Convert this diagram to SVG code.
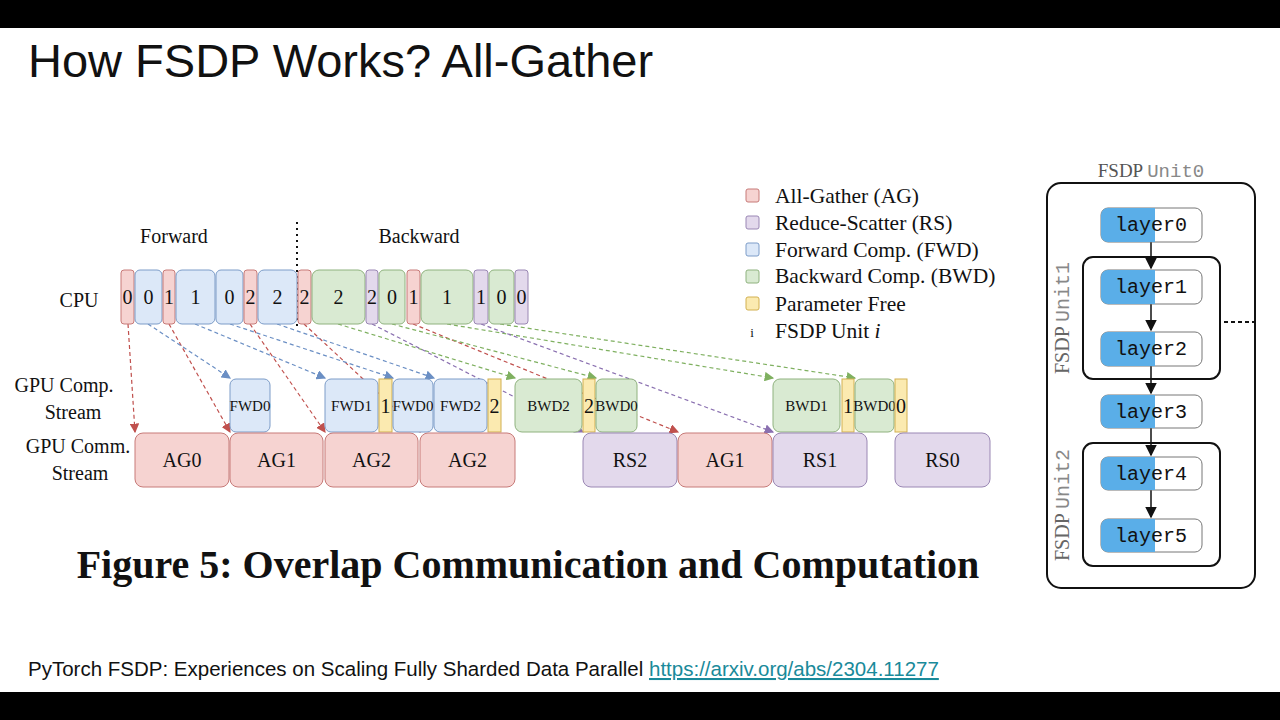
<svg xmlns="http://www.w3.org/2000/svg" width="1280" height="720" viewBox="0 0 1280 720">
<style>
.s{font-family:"Liberation Serif",serif;fill:#111}
.m{font-family:"Liberation Mono",monospace}
.r{fill:#f6d3d1;stroke:#c77a78;stroke-width:1}
.b{fill:#dce8f8;stroke:#7c9cc8;stroke-width:1}
.g{fill:#d9ead2;stroke:#8fb27e;stroke-width:1}
.p{fill:#e3d9ec;stroke:#9a87b4;stroke-width:1}
.y{fill:#fbeab0;stroke:#d2b050;stroke-width:1}
.ar{fill:none;stroke-width:1.2;stroke-dasharray:4 3}
.lay{fill:#fff;stroke:#777}
</style>
<defs>
<marker id="mr" markerWidth="8" markerHeight="8" refX="7" refY="4" orient="auto"><path d="M0,0L8,4L0,8z" fill="#c0504d"/></marker>
<marker id="mb" markerWidth="8" markerHeight="8" refX="7" refY="4" orient="auto"><path d="M0,0L8,4L0,8z" fill="#6b8fc4"/></marker>
<marker id="mg" markerWidth="8" markerHeight="8" refX="7" refY="4" orient="auto"><path d="M0,0L8,4L0,8z" fill="#7fb060"/></marker>
<marker id="mp" markerWidth="8" markerHeight="8" refX="7" refY="4" orient="auto"><path d="M0,0L8,4L0,8z" fill="#8a70b0"/></marker>
<marker id="mk" markerWidth="8" markerHeight="8" refX="7" refY="4" orient="auto"><path d="M0,0L8,4L0,8z" fill="#111"/></marker>
</defs>
<rect width="1280" height="720" fill="#fff"/>
<rect width="1280" height="28" fill="#000"/>
<rect y="692" width="1280" height="28" fill="#000"/>
<text x="28" y="77" font-family="Liberation Sans,sans-serif" font-size="47" fill="#111">How FSDP Works? All-Gather</text>

<g id="labels" class="s" font-size="20">
<text x="174" y="243" text-anchor="middle">Forward</text>
<text x="419" y="243" text-anchor="middle">Backward</text>
<text x="79" y="307" text-anchor="middle">CPU</text>
<text x="64" y="392" text-anchor="middle">GPU Comp.</text>
<text x="73" y="419" text-anchor="middle">Stream</text>
<text x="78" y="453" text-anchor="middle">GPU Comm.</text>
<text x="80" y="480" text-anchor="middle">Stream</text>
</g>
<line x1="297" y1="222" x2="297" y2="326" stroke="#111" stroke-width="2" stroke-dasharray="2 4"/>

<g id="connectors">
<path class="ar" stroke="#c0504d" marker-end="url(#mr)" d="M128,324L135,432"/>
<path class="ar" stroke="#c0504d" marker-end="url(#mr)" d="M169,324L230,432"/>
<path class="ar" stroke="#c0504d" marker-end="url(#mr)" d="M250,324L325,432"/>
<path class="ar" stroke="#c0504d" marker-end="url(#mr)" d="M304,324L420,432"/>
<path class="ar" stroke="#c0504d" marker-end="url(#mr)" d="M413,324L678,432"/>
<path class="ar" stroke="#6b8fc4" marker-end="url(#mb)" d="M148,324L230,378"/>
<path class="ar" stroke="#6b8fc4" marker-end="url(#mb)" d="M195,324L325,378"/>
<path class="ar" stroke="#6b8fc4" marker-end="url(#mb)" d="M230,324L393,378"/>
<path class="ar" stroke="#6b8fc4" marker-end="url(#mb)" d="M277,324L434,378"/>
<path class="ar" stroke="#7fb060" marker-end="url(#mg)" d="M338,324L515,378"/>
<path class="ar" stroke="#7fb060" marker-end="url(#mg)" d="M392,324L596,378"/>
<path class="ar" stroke="#7fb060" marker-end="url(#mg)" d="M447,324L773,378"/>
<path class="ar" stroke="#7fb060" marker-end="url(#mg)" d="M500,324L855,378"/>
<path class="ar" stroke="#8a70b0" marker-end="url(#mp)" d="M372,324L583,432"/>
<path class="ar" stroke="#8a70b0" marker-end="url(#mp)" d="M481,324L773,432"/>
</g>

<g id="cpu" class="s" font-size="20" text-anchor="middle">
<rect class="r" x="121" y="270" width="13" height="54" rx="3"/><text x="127.5" y="304">0</text>
<rect class="b" x="135" y="270" width="27" height="54" rx="5"/><text x="148.5" y="304">0</text>
<rect class="r" x="163" y="270" width="12" height="54" rx="3"/><text x="169" y="304">1</text>
<rect class="b" x="176" y="270" width="39" height="54" rx="6"/><text x="195.5" y="304">1</text>
<rect class="b" x="216" y="270" width="27" height="54" rx="5"/><text x="229.5" y="304">0</text>
<rect class="r" x="244" y="270" width="13" height="54" rx="3"/><text x="250.5" y="304">2</text>
<rect class="b" x="258" y="270" width="39" height="54" rx="6"/><text x="277.5" y="304">2</text>
<rect class="r" x="298" y="270" width="13" height="54" rx="3"/><text x="304.5" y="304">2</text>
<rect class="g" x="312" y="270" width="53" height="54" rx="7"/><text x="338.5" y="304">2</text>
<rect class="p" x="366" y="270" width="12" height="54" rx="3"/><text x="372" y="304">2</text>
<rect class="g" x="379" y="270" width="26" height="54" rx="5"/><text x="392" y="304">0</text>
<rect class="r" x="407" y="270" width="13" height="54" rx="3"/><text x="413.5" y="304">1</text>
<rect class="g" x="421" y="270" width="52" height="54" rx="7"/><text x="447" y="304">1</text>
<rect class="p" x="474" y="270" width="14" height="54" rx="3"/><text x="481" y="304">1</text>
<rect class="g" x="489" y="270" width="25" height="54" rx="5"/><text x="501.5" y="304">0</text>
<rect class="p" x="515" y="270" width="13" height="54" rx="3"/><text x="521.5" y="304">0</text>
</g>

<g id="gpucomp" class="s" font-size="15" text-anchor="middle">
<rect class="b" x="230" y="379" width="40" height="53" rx="6"/><text x="250" y="411">FWD0</text>
<rect class="b" x="325" y="379" width="53" height="53" rx="6"/><text x="351.5" y="411">FWD1</text>
<rect class="y" x="379" y="379" width="13" height="53"/><text x="385.5" y="413" font-size="20">1</text>
<rect class="b" x="393" y="379" width="40" height="53" rx="6"/><text x="413" y="411">FWD0</text>
<rect class="b" x="434" y="379" width="53" height="53" rx="6"/><text x="460.5" y="411">FWD2</text>
<rect class="y" x="488" y="379" width="13" height="53"/><text x="494.5" y="413" font-size="20">2</text>
<rect class="g" x="515" y="379" width="67" height="53" rx="7"/><text x="548.5" y="411">BWD2</text>
<rect class="y" x="583" y="379" width="12" height="53"/><text x="589" y="413" font-size="20">2</text>
<rect class="g" x="596" y="379" width="41" height="53" rx="6"/><text x="616.5" y="411">BWD0</text>
<rect class="g" x="773" y="379" width="67" height="53" rx="7"/><text x="806.5" y="411">BWD1</text>
<rect class="y" x="842" y="379" width="12" height="53"/><text x="848" y="413" font-size="20">1</text>
<rect class="g" x="855" y="379" width="39" height="53" rx="6"/><text x="874.5" y="411">BWD0</text>
<rect class="y" x="895" y="379" width="12" height="53"/><text x="901" y="413" font-size="20">0</text>
</g>

<g id="gpucomm" class="s" font-size="20" text-anchor="middle">
<rect class="r" x="135" y="433" width="94" height="54" rx="8"/><text x="182" y="467">AG0</text>
<rect class="r" x="230" y="433" width="93" height="54" rx="8"/><text x="276.5" y="467">AG1</text>
<rect class="r" x="325" y="433" width="93" height="54" rx="8"/><text x="371.5" y="467">AG2</text>
<rect class="r" x="420" y="433" width="95" height="54" rx="8"/><text x="467.5" y="467">AG2</text>
<rect class="p" x="583" y="433" width="94" height="54" rx="8"/><text x="630" y="467">RS2</text>
<rect class="r" x="678" y="433" width="94" height="54" rx="8"/><text x="725" y="467">AG1</text>
<rect class="p" x="773" y="433" width="94" height="54" rx="8"/><text x="820" y="467">RS1</text>
<rect class="p" x="895" y="433" width="95" height="54" rx="8"/><text x="942.5" y="467">RS0</text>
</g>

<g id="legend" class="s" font-size="21.5">
<rect class="r" x="746" y="189" width="13" height="13" rx="2"/><text x="775" y="203">All-Gather (AG)</text>
<rect class="p" x="746" y="216" width="13" height="13" rx="2"/><text x="775" y="230">Reduce-Scatter (RS)</text>
<rect class="b" x="746" y="243" width="13" height="13" rx="2"/><text x="775" y="257">Forward Comp. (FWD)</text>
<rect class="g" x="746" y="270" width="13" height="13" rx="2"/><text x="775" y="283">Backward Comp. (BWD)</text>
<rect class="y" x="746" y="297" width="13" height="13" rx="2"/><text x="775" y="311">Parameter Free</text>
<text x="752" y="337" font-size="13" text-anchor="middle">i</text><text x="775" y="338">FSDP Unit <tspan font-style="italic">i</tspan></text>
</g>

<text x="528" y="578" text-anchor="middle" font-family="Liberation Serif,serif" font-weight="bold" font-size="40" fill="#111">Figure 5: Overlap Communication and Computation</text>

<g id="fsdp-panel">
<text x="1151" y="177" text-anchor="middle" font-size="19" fill="#555"><tspan font-family="Liberation Serif,serif">FSDP </tspan><tspan font-family="Liberation Mono,monospace" fill="#888">Unit0</tspan></text>
<rect x="1047" y="183" width="208" height="405" rx="14" fill="none" stroke="#111" stroke-width="2"/>
<rect x="1083" y="257" width="137" height="122" rx="10" fill="none" stroke="#111" stroke-width="2"/>
<rect x="1083" y="443" width="137" height="123" rx="10" fill="none" stroke="#111" stroke-width="2"/>
<text transform="translate(1069,318) rotate(-90)" text-anchor="middle" font-size="20" fill="#666"><tspan font-family="Liberation Serif,serif">FSDP </tspan><tspan font-family="Liberation Mono,monospace" fill="#888">Unit1</tspan></text>
<text transform="translate(1069,505) rotate(-90)" text-anchor="middle" font-size="20" fill="#666"><tspan font-family="Liberation Serif,serif">FSDP </tspan><tspan font-family="Liberation Mono,monospace" fill="#888">Unit2</tspan></text>
<line x1="1224" y1="322" x2="1258" y2="322" stroke="#111" stroke-width="2" stroke-dasharray="4 3"/>
<g stroke="#111" stroke-width="1.5" marker-end="url(#mk)">
<line x1="1151" y1="242" x2="1151" y2="268"/>
<line x1="1151" y1="304" x2="1151" y2="330"/>
<line x1="1151" y1="366" x2="1151" y2="393"/>
<line x1="1151" y1="428" x2="1151" y2="455"/>
<line x1="1151" y1="490" x2="1151" y2="517"/>
</g>
<g id="layers" class="m" font-size="20" fill="#111" text-anchor="middle">
<g id="layer0"><rect class="lay" x="1101" y="208" width="101" height="34" rx="7"/><path d="M1108,208H1155V242H1108A7,7 0 0 1 1101,235V215A7,7 0 0 1 1108,208z" fill="#5aaee8"/><text x="1151" y="231">layer0</text></g>
<g id="layer1"><rect class="lay" x="1101" y="270" width="101" height="34" rx="7"/><path d="M1108,270H1155V304H1108A7,7 0 0 1 1101,297V277A7,7 0 0 1 1108,270z" fill="#5aaee8"/><text x="1151" y="293">layer1</text></g>
<g id="layer2"><rect class="lay" x="1101" y="332" width="101" height="34" rx="7"/><path d="M1108,332H1155V366H1108A7,7 0 0 1 1101,359V339A7,7 0 0 1 1108,332z" fill="#5aaee8"/><text x="1151" y="355">layer2</text></g>
<g id="layer3"><rect class="lay" x="1101" y="395" width="101" height="33" rx="7"/><path d="M1108,395H1155V428H1108A7,7 0 0 1 1101,421V402A7,7 0 0 1 1108,395z" fill="#5aaee8"/><text x="1151" y="418">layer3</text></g>
<g id="layer4"><rect class="lay" x="1101" y="457" width="101" height="33" rx="7"/><path d="M1108,457H1155V490H1108A7,7 0 0 1 1101,483V464A7,7 0 0 1 1108,457z" fill="#5aaee8"/><text x="1151" y="480">layer4</text></g>
<g id="layer5"><rect class="lay" x="1101" y="519" width="101" height="33" rx="7"/><path d="M1108,519H1155V552H1108A7,7 0 0 1 1101,545V526A7,7 0 0 1 1108,519z" fill="#5aaee8"/><text x="1151" y="542">layer5</text></g>
</g>
</g>

<text x="28" y="676" font-family="Liberation Sans,sans-serif" font-size="20.5" fill="#111">PyTorch FSDP: Experiences on Scaling Fully Sharded Data Parallel <tspan fill="#1a8a9a" text-decoration="underline">https://arxiv.org/abs/2304.11277</tspan></text>
</svg>
